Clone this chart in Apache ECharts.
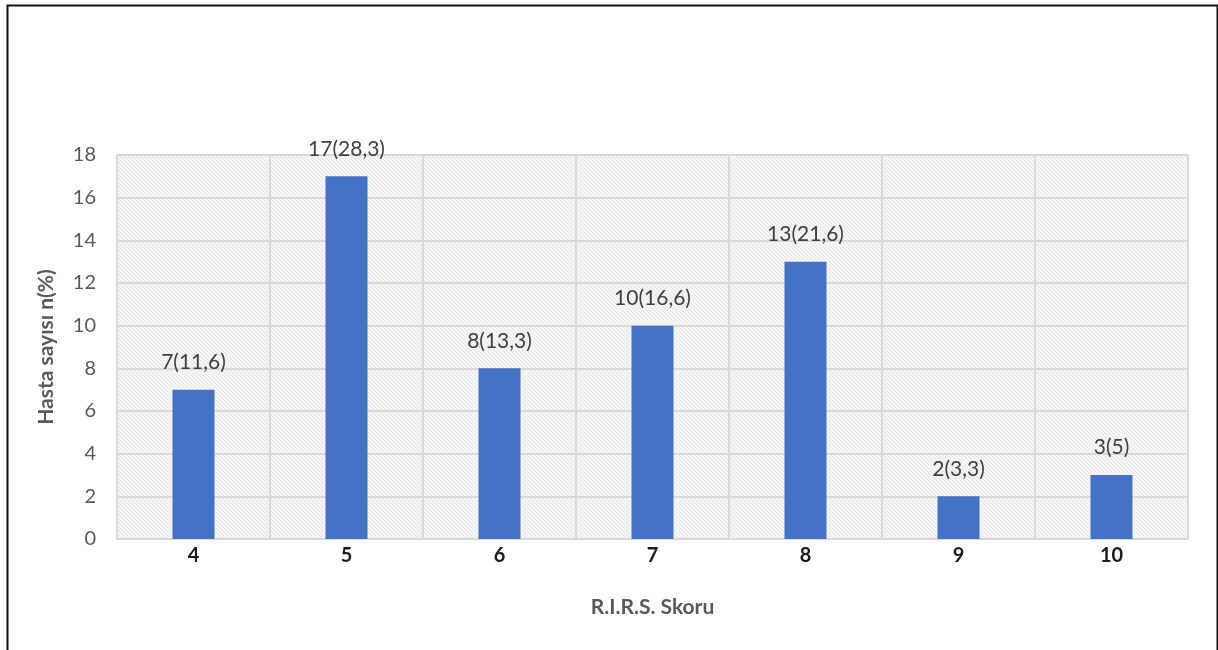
<!DOCTYPE html>
<html>
<head>
<meta charset="utf-8">
<script src="https://cdn.jsdelivr.net/npm/echarts@6/dist/echarts.min.js"></script>
<style>
  html, body { margin: 0; padding: 0; background: #ffffff; }
  #chart { width: 1218px; height: 650px; }
</style>
</head>
<body>
<div id="chart"></div>
<script>
// RIRS score distribution
const categories = ['4', '5', '6', '7', '8', '9', '10'];
const patientCounts = [7, 17, 8, 10, 13, 2, 3];
const percentLabels = ['11,6', '28,3', '13,3', '16,6', '21,6', '3,3', '5'];
const yTicks = [0, 2, 4, 6, 8, 10, 12, 14, 16, 18];

// light diagonal hatch used as the plot background
function hatchPattern() {
  const size = 4;
  const c = document.createElement('canvas');
  c.width = size; c.height = size;
  const ctx = c.getContext('2d');
  ctx.fillStyle = '#f6f6f6';
  ctx.fillRect(0, 0, size, size);
  ctx.strokeStyle = '#e4e4e4';
  ctx.lineWidth = 1;
  ctx.beginPath();
  ctx.moveTo(-1, -1); ctx.lineTo(size + 1, size + 1);
  ctx.moveTo(-1, size - 1); ctx.lineTo(1, size + 1);
  ctx.moveTo(size - 1, -1); ctx.lineTo(size + 1, 1);
  ctx.stroke();
  return { image: c, repeat: 'repeat' };
}

const chart = echarts.init(document.getElementById('chart'));
const font = 'Lato, "Open Sans", sans-serif';

chart.setOption({
  animation: false,
  backgroundColor: '#ffffff',
  textStyle: { fontFamily: font },
  graphic: [{
    type: 'rect',
    left: 5, top: 3,
    shape: { width: 1210, height: 660 },
    style: { fill: 'none', stroke: '#111111', lineWidth: 2 },
    silent: true
  }],
  grid: {
    left: 117, right: 30, top: 155, bottom: 111,
    show: true,
    backgroundColor: hatchPattern(),
    borderWidth: 0
  },
  xAxis: {
    type: 'category',
    data: categories,
    name: 'R.I.R.S. Skoru',
    nameLocation: 'middle',
    nameGap: 58,
    nameTextStyle: { fontSize: 21, fontWeight: 'bold', color: '#595959', fontFamily: font },
    axisLine: { show: true, lineStyle: { color: '#d9d9d9', width: 2 } },
    axisTick: { show: false },
    axisLabel: { fontSize: 20, fontWeight: 'bold', color: '#1a1a1a', margin: 7, fontFamily: font },
    splitLine: { show: true, lineStyle: { color: '#d9d9d9', width: 2 } }
  },
  yAxis: {
    type: 'value',
    min: 0, max: 18, interval: 2,
    name: 'Hasta sayısı n(%)',
    nameLocation: 'middle',
    nameGap: 60,
    nameTextStyle: { fontSize: 21, fontWeight: 'bold', color: '#595959', fontFamily: font },
    axisLine: { show: false },
    axisTick: { show: false },
    axisLabel: {
      fontSize: 20, color: '#595959', margin: 21, fontFamily: font,
      formatter: v => (yTicks.includes(v) ? String(v) : '')
    },
    splitLine: { show: true, lineStyle: { color: '#d9d9d9', width: 2 } }
  },
  series: [{
    type: 'bar',
    data: patientCounts,
    barWidth: 42,
    itemStyle: { color: '#4472c4' },
    label: {
      show: true,
      position: 'top',
      distance: 17,
      fontSize: 21,
      color: '#404040',
      fontFamily: font,
      formatter: p => p.value + '(' + percentLabels[p.dataIndex] + ')'
    }
  }]
});
</script>
</body>
</html>
